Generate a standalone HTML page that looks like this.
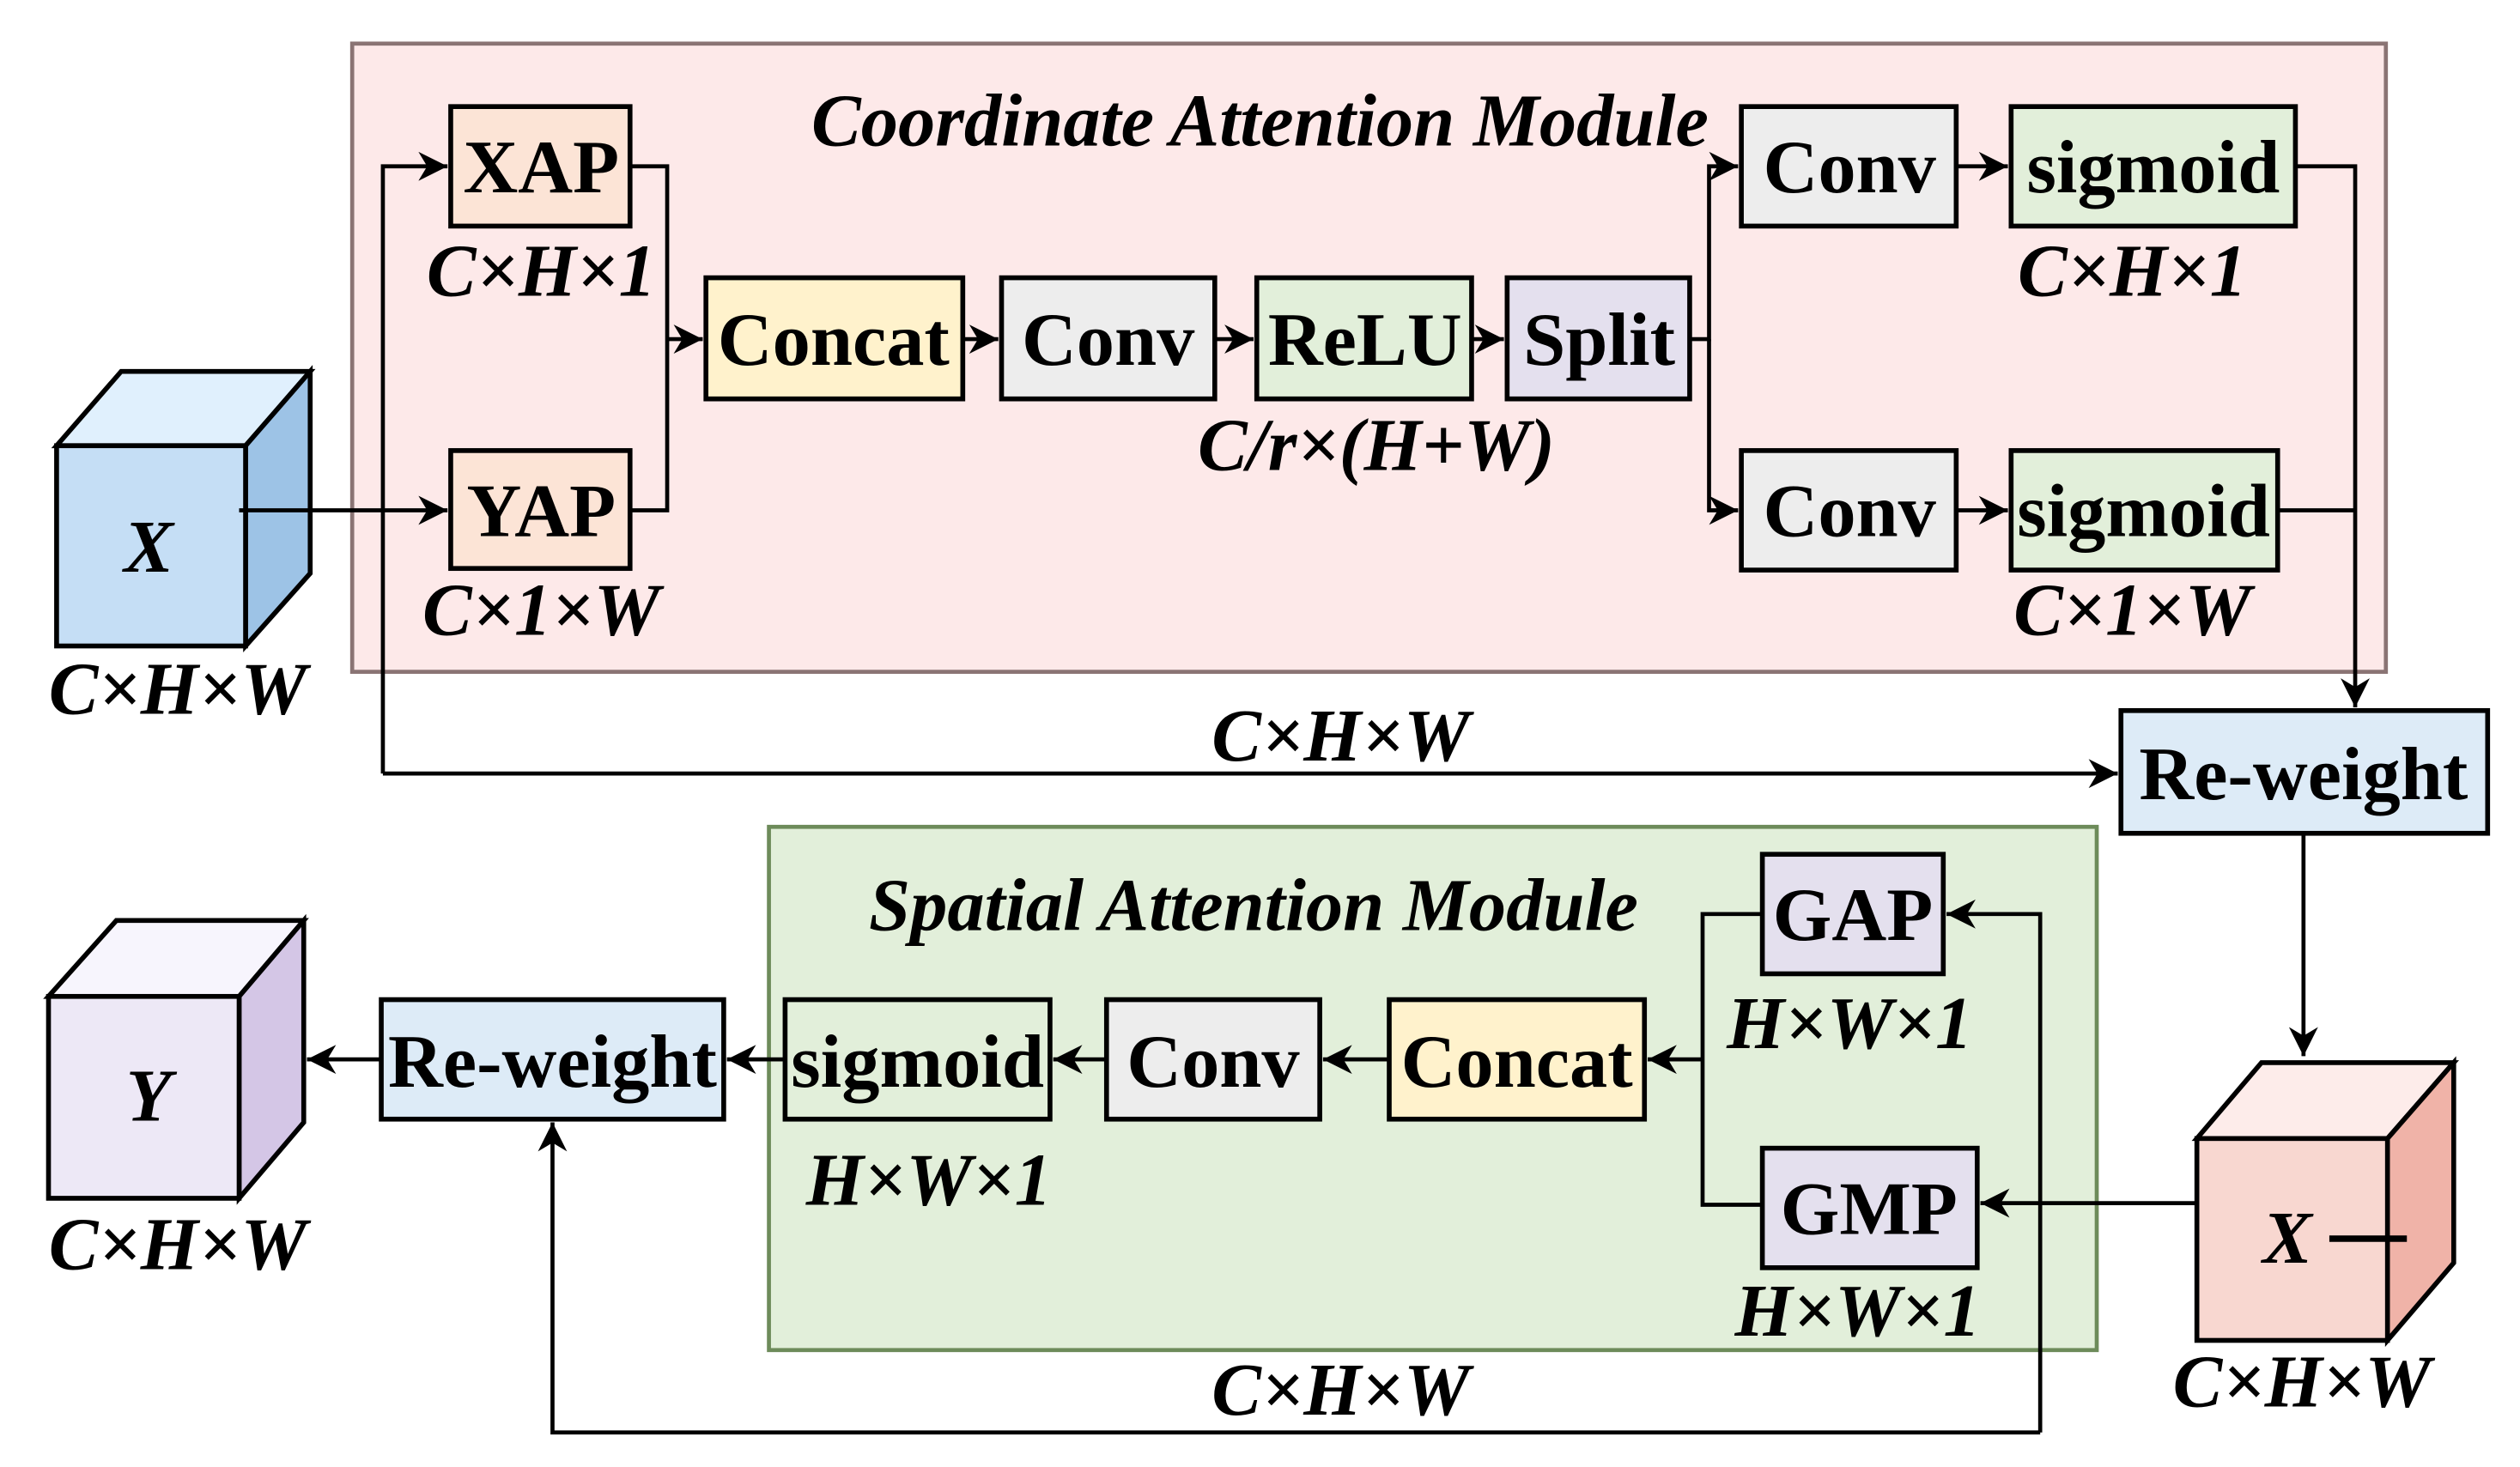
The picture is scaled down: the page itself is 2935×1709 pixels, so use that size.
<!DOCTYPE html>
<html><head><meta charset="utf-8"><style>
html,body{margin:0;padding:0;background:#fff;}
svg{display:block;}
text{font-family:"Liberation Serif",serif;}
.b{font-weight:bold;font-size:47px;text-anchor:middle;}
.i{font-style:italic;font-weight:bold;font-size:46px;text-anchor:middle;}
.t{font-style:italic;font-weight:bold;font-size:46px;text-anchor:middle;}
.box{stroke:#000;stroke-width:3;}
.ln{stroke:#000;stroke-width:2.5;fill:none;}
</style></head><body>
<svg width="2935" height="1709" viewBox="0 0 1560 908.4" xmlns="http://www.w3.org/2000/svg">
<defs>
<marker id="A" viewBox="0 0 10 10" refX="10" refY="5" markerWidth="18" markerHeight="18" markerUnits="userSpaceOnUse" orient="auto"><path d="M0,0 L10,5 L0,10 L3,5 z" fill="#000"/></marker>
</defs>
<rect x="218" y="27" width="1259" height="389" fill="#fde9e9" stroke="#8a7474" stroke-width="2.5"/>
<rect x="476" y="512" width="822" height="324" fill="#e2efda" stroke="#6d8b5a" stroke-width="2.5"/>
<text class="t" x="780" y="90">Coordinate Attention Module</text>
<text class="t" x="776" y="576">Spatial Attention Module</text>

<polygon points="35,276 75,230 192,230 152,276" fill="#e0f0fd" stroke="#000" stroke-width="3"/>
<polygon points="152,276 192,230 192,355 152,400" fill="#9dc3e6" stroke="#000" stroke-width="3"/>
<rect x="35" y="276" width="117" height="124" fill="#c5def5" stroke="#000" stroke-width="3"/>
<text class="i" x="92" y="354">X</text>
<text class="i" x="110" y="442">C×H×W</text>

<rect class="box" x="279" y="66" width="111" height="74" fill="#fce4d6"/><text class="b" x="335" y="119">XAP</text>
<text class="i" x="335" y="183">C×H×1</text>
<rect class="box" x="279" y="279" width="111" height="73" fill="#fce4d6"/><text class="b" x="335" y="332">YAP</text>
<text class="i" x="335" y="393">C×1×W</text>
<rect class="box" x="437" y="172" width="159" height="75" fill="#fff2cc"/><text class="b" x="516" y="226">Concat</text>
<rect class="box" x="620" y="172" width="132" height="75" fill="#ededed"/><text class="b" x="686" y="226">Conv</text>
<rect class="box" x="778" y="172" width="133" height="75" fill="#e2efda"/><text class="b" x="845" y="226">ReLU</text>
<rect class="box" x="933" y="172" width="113" height="75" fill="#e4e0ee"/><text class="b" x="990" y="226">Split</text>
<text class="i" x="852" y="291">C/r×(H+W)</text>
<rect class="box" x="1078" y="66" width="133" height="74" fill="#ededed"/><text class="b" x="1145" y="119">Conv</text>
<rect class="box" x="1245" y="66" width="176" height="74" fill="#e2efda"/><text class="b" x="1333" y="119">sigmoid</text>
<text class="i" x="1320" y="183">C×H×1</text>
<rect class="box" x="1078" y="279" width="133" height="74" fill="#ededed"/><text class="b" x="1145" y="332">Conv</text>
<rect class="box" x="1245" y="279" width="165" height="74" fill="#e2efda"/><text class="b" x="1327" y="332">sigmoid</text>
<text class="i" x="1320" y="393">C×1×W</text>

<rect class="box" x="1313" y="440" width="227" height="76" fill="#ddebf7"/><text class="b" x="1426" y="495">Re-weight</text>

<path class="ln" d="M148,316 H277" marker-end="url(#A)"/>
<path class="ln" d="M237,479 V103 H277" marker-end="url(#A)"/>
<path class="ln" d="M237,479 H1311" marker-end="url(#A)"/>
<text class="i" x="830" y="471">C×H×W</text>
<path class="ln" d="M390,103 H413 V316 H390"/>
<path class="ln" d="M413,210 H435" marker-end="url(#A)"/>
<path class="ln" d="M596,210 H618" marker-end="url(#A)"/>
<path class="ln" d="M752,210 H776" marker-end="url(#A)"/>
<path class="ln" d="M911,210 H931" marker-end="url(#A)"/>
<path class="ln" d="M1046,210 H1058 V103 H1076" marker-end="url(#A)"/>
<path class="ln" d="M1058,210 V316 H1076" marker-end="url(#A)"/>
<path class="ln" d="M1211,103 H1243" marker-end="url(#A)"/>
<path class="ln" d="M1211,316 H1243" marker-end="url(#A)"/>
<path class="ln" d="M1421,103 H1458 V438" marker-end="url(#A)"/>
<path class="ln" d="M1410,316 H1458"/>
<path class="ln" d="M1426,516 V654" marker-end="url(#A)"/>

<polygon points="1360,705 1400,658 1519,658 1478,705" fill="#fdecea" stroke="#000" stroke-width="3"/>
<polygon points="1478,705 1519,658 1519,782 1478,830" fill="#f0b3a8" stroke="#000" stroke-width="3"/>
<rect x="1360" y="705" width="118" height="125" fill="#f8d7d0" stroke="#000" stroke-width="3"/>
<text class="i" x="1416" y="782">X</text>
<path d="M1442,767 H1490" stroke="#000" stroke-width="4"/>
<text class="i" x="1425" y="871">C×H×W</text>

<rect class="box" x="1091" y="529" width="112" height="74" fill="#e4e0ee"/><text class="b" x="1147" y="582">GAP</text>
<text class="i" x="1145" y="649">H×W×1</text>
<rect class="box" x="1091" y="711" width="133" height="74" fill="#e4e0ee"/><text class="b" x="1157" y="764">GMP</text>
<text class="i" x="1150" y="827">H×W×1</text>
<rect class="box" x="860" y="619" width="158" height="74" fill="#fff2cc"/><text class="b" x="939" y="673">Concat</text>
<rect class="box" x="685" y="619" width="132" height="74" fill="#ededed"/><text class="b" x="751" y="673">Conv</text>
<rect class="box" x="486" y="619" width="164" height="74" fill="#e2efda"/><text class="b" x="568" y="673">sigmoid</text>
<text class="i" x="575" y="746">H×W×1</text>
<rect class="box" x="236" y="619" width="212" height="74" fill="#ddebf7"/><text class="b" x="342" y="673">Re-weight</text>

<polygon points="30,617 72,570 188,570 148,617" fill="#f7f5fd" stroke="#000" stroke-width="3"/>
<polygon points="148,617 188,570 188,695 148,742" fill="#d4c6e6" stroke="#000" stroke-width="3"/>
<rect x="30" y="617" width="118" height="125" fill="#ede8f6" stroke="#000" stroke-width="3"/>
<text class="i" x="92" y="694">Y</text>
<text class="i" x="110" y="786">C×H×W</text>

<path class="ln" d="M1360,745 H1226" marker-end="url(#A)"/>
<path class="ln" d="M1263,887 V566 H1205" marker-end="url(#A)"/>
<path class="ln" d="M1263,887 H342 V695" marker-end="url(#A)"/>
<text class="i" x="830" y="876">C×H×W</text>
<path class="ln" d="M1091,566 H1054 V746 H1091"/>
<path class="ln" d="M1054,656 H1020" marker-end="url(#A)"/>
<path class="ln" d="M860,656 H819" marker-end="url(#A)"/>
<path class="ln" d="M685,656 H652" marker-end="url(#A)"/>
<path class="ln" d="M486,656 H450" marker-end="url(#A)"/>
<path class="ln" d="M236,656 H190" marker-end="url(#A)"/>
</svg>
</body></html>
